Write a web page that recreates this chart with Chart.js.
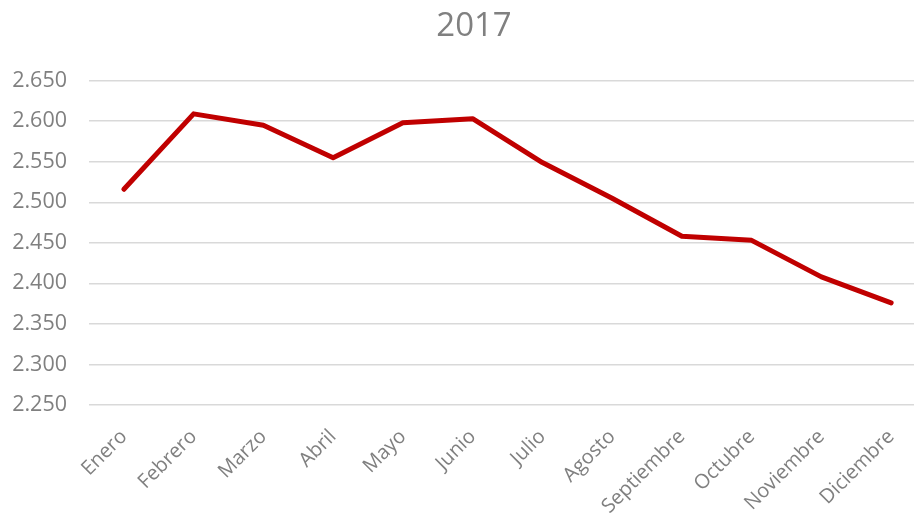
<!DOCTYPE html>
<html>
<head>
<meta charset="utf-8">
<script src="https://cdn.jsdelivr.net/npm/chart.js@4/dist/chart.umd.min.js"></script>
<style>
html,body{margin:0;padding:0;background:#fff;overflow:hidden;}
#wrap{width:914px;height:515px;overflow:hidden;}
</style>
</head>
<body>
<div id="wrap"><canvas id="c" width="940" height="515"></canvas></div>
<script>
const titleText = "2017";
const months = ["Enero","Febrero","Marzo","Abril","Mayo","Junio","Julio","Agosto","Septiembre","Octubre","Noviembre","Diciembre"];
const values2017 = [2516, 2609, 2595, 2555, 2598, 2603, 2549, 2505, 2458, 2453, 2408, 2376];
const yMin = 2250, yMax = 2650, yStep = 50;

function fmt(v){
  const th = Math.floor(v/1000);
  const rest = String(Math.round(v%1000)).padStart(3,'0');
  return th + '.' + rest;
}

const FONT = 'Open Sans, Liberation Sans, sans-serif';

// shift the title box so its centre sits where the reference title is
const titleShift = {
  id: 'titleShift',
  afterLayout(chart) {
    const tb = chart.titleBlock;
    if (tb) {
      const target = 474;
      const half = (tb.right - tb.left) / 2;
      const newLeft = target * 2 - tb.right;
      tb.left = newLeft;
    }
  }
};

new Chart(document.getElementById('c'), {
  type: 'line',
  data: {
    labels: months,
    datasets: [{
      data: values2017,
      borderColor: '#C00000',
      borderWidth: 5,
      pointRadius: 0,
      tension: 0,
      fill: false,
      borderCapStyle: 'round',
      borderJoinStyle: 'round'
    }]
  },
  plugins: [titleShift],
  options: {
    responsive: false,
    animation: false,
    layout: { padding: { left: 0, right: 14, top: 4, bottom: 0 } },
    plugins: {
      legend: { display: false },
      tooltip: { enabled: false },
      title: {
        display: true,
        text: titleText,
        color: '#808080',
        font: { family: FONT, size: 33, weight: 'normal' },
        padding: { top: 3, bottom: 34 }
      }
    },
    scales: {
      x: {
        offset: true,
        grid: { display: false, drawTicks: false },
        border: { display: false },
        afterFit: (s) => { s.height = 110; },
        ticks: {
          color: '#808080',
          font: { family: FONT, size: 20 },
          minRotation: 45,
          maxRotation: 45,
          padding: 20,
          autoSkip: false
        }
      },
      y: {
        min: yMin,
        max: yMax,
        grid: { color: '#d9d9d9', lineWidth: 1.5, drawTicks: false },
        border: { display: false },
        afterFit: (s) => { s.width = 89; },
        ticks: {
          stepSize: yStep,
          color: '#808080',
          font: { family: FONT, size: 21.5 },
          padding: 22,
          callback: (v) => fmt(v)
        }
      }
    }
  }
});
</script>
</body>
</html>
